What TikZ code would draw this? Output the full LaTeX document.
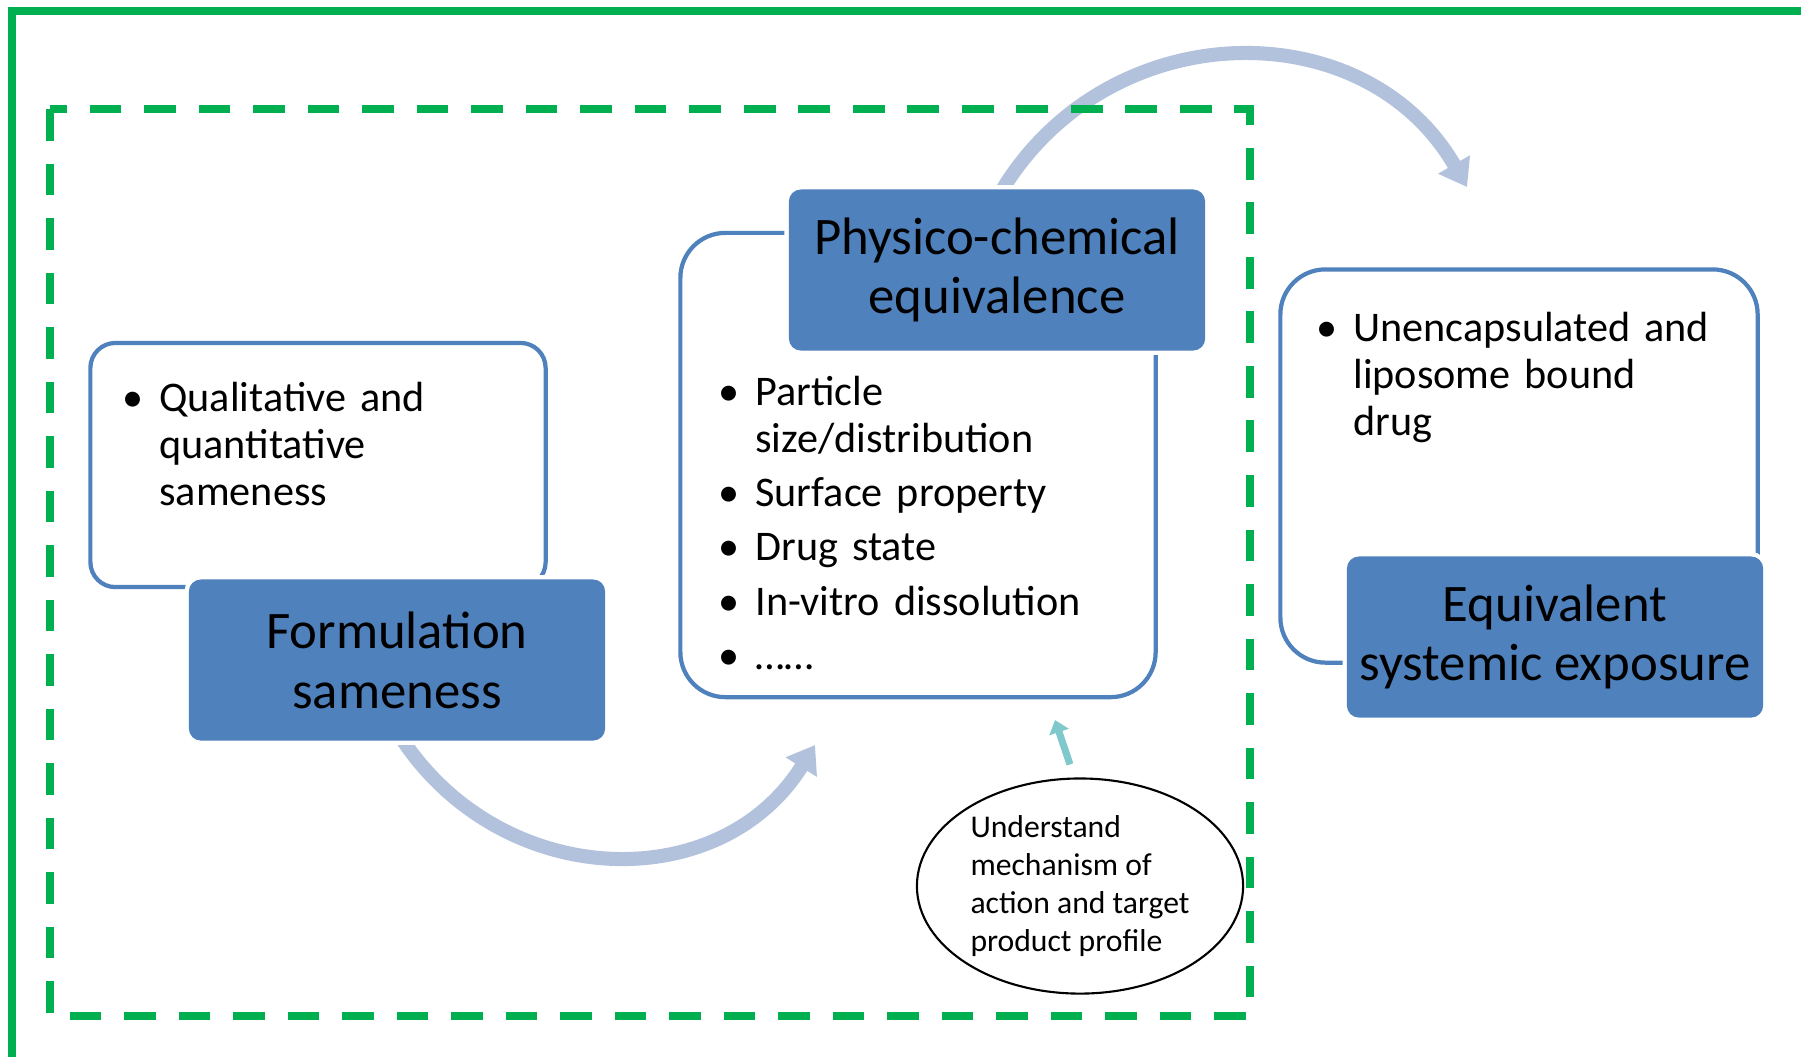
\documentclass[tikz,border=0pt]{standalone}
\usepackage{fontspec}
\setmainfont{Carlito}
\usetikzlibrary{arrows.meta, shapes.geometric, backgrounds}

\definecolor{boxblue}{RGB}{79,129,189}
\definecolor{arcblue}{RGB}{178,194,221}
\definecolor{tealarrow}{RGB}{127,200,204}
\definecolor{framegreen}{RGB}{0,176,80}

% one bullet of a list, hanging indent
\newcommand{\bitem}[1]{\par\noindent\hangindent=15pt\hangafter=1\strut\makebox[15pt][c]{\textbullet}#1\par}

\begin{document}
\begin{tikzpicture}[x=0.01cm, y=-0.01cm, thick, font=\fontsize{12}{13.3}\selectfont]
        \tikzstyle{card} = [rectangle, draw=boxblue, line width=1.2pt, fill=white, inner sep=0pt]
        \tikzstyle{title} = [rectangle, fill=boxblue, text=black, rounded corners=0.12cm,
                            minimum width=4.16cm, minimum height=1.61cm, align=center,
                            font=\fontsize{15}{17}\selectfont, preaction={draw=white, line width=2.5pt}]
        \tikzstyle{list} = [anchor=north west, inner sep=0pt, text width=4.2cm,
                            font=\fontsize{12}{13.3}\selectfont\raggedright\setlength{\parskip}{2.1pt}]
        \tikzstyle{bigarrow} = [arcblue, line width=4pt, -{Triangle[length=7.4pt, width=10pt]}]

        \useasboundingbox (0,0) rectangle (1801,1056);
        \begin{pgfonlayer}{background}
        \fill[white] (0,0) rectangle (1801,1056);
        \end{pgfonlayer}
        \clip (0,0) rectangle (1801,1056);

        % Cadres verts
        \draw[framegreen, line width=2.2pt] (12,11) rectangle (1850,1100);
        \draw[framegreen, line width=2.3pt, dash pattern=on 9pt off 6.5pt] (50,109) rectangle (1250,1016);

        % Boites blanches
        \node[card, rounded corners=0.25cm, minimum width=4.55cm, minimum height=2.44cm] (w1) at (318,465) {};
        \node[card, rounded corners=0.45cm, minimum width=4.75cm, minimum height=4.64cm] (w2) at (918,465) {};
        \node[card, rounded corners=0.45cm, minimum width=4.77cm, minimum height=3.93cm] (w3) at (1519,466) {};

        % Listes
        \node[list] (l1) at (106,357) {\bitem{Qualitative and\newline quantitative\newline sameness}};
        \node[list] (l2) at (702,351) {\bitem{Particle\newline size/distribution}\bitem{Surface property}\bitem{Drug state}\bitem{In-vitro dissolution}\bitem{……}};
        \node[list] (l3) at (1300,287) {\bitem{Unencapsulated and\newline liposome bound\newline drug}};

        % Titres
        \node[title] (form) at (397,660) {Formulation\\sameness};
        \node[title] (phys) at (997,270) {Physico-chemical\\equivalence};
        \node[title] (equiv) at (1555,637) {Equivalent\\systemic exposure};

        % Ellipse
        \node[ellipse, draw=black, line width=0.6pt, minimum width=3.26cm, minimum height=2.15cm,
              inner sep=0pt, align=left, font=\fontsize{9}{10.8}\selectfont] (mech) at (1080,886)
              {Understand\\mechanism of\\action and target\\product profile};

        % Fleches
        \coordinate (toptip) at (1467,187);
        \coordinate (bottip) at (815,745);
        \coordinate (mtip) at (1055,720);
        \begin{pgfonlayer}{background}
        \draw[bigarrow] ([yshift=-0.1cm]phys.north) .. controls +(104,-185) and +(-104,-180) .. (toptip);
        \draw[bigarrow] ([yshift=0.1cm]form.south) .. controls +(99,160) and +(-96,154) .. (bottip);
        \end{pgfonlayer}
        \draw[tealarrow, line width=2pt, -{Triangle[length=3.6pt, width=5.6pt]}] ([xshift=-0.1cm, yshift=0.13cm]mech.north) -- (mtip);
    \end{tikzpicture}
\end{document}
